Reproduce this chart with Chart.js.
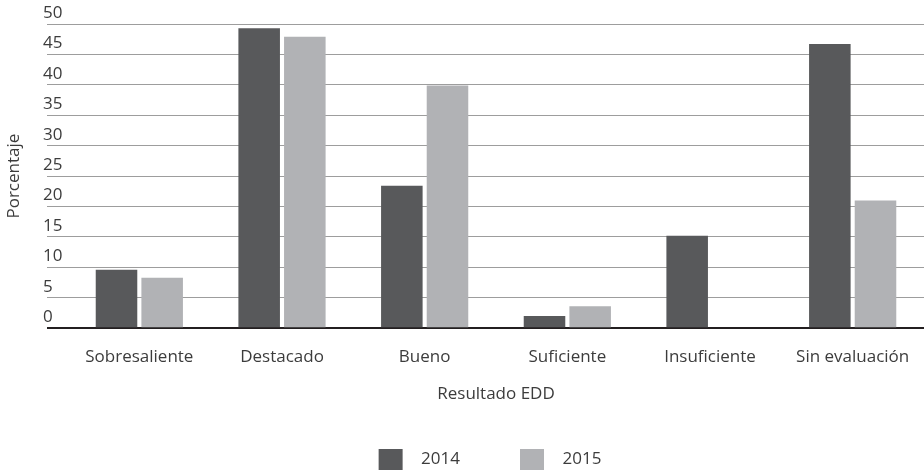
<!DOCTYPE html>
<html>
<head>
<meta charset="utf-8">
<script src="https://cdn.jsdelivr.net/npm/chart.js@4/dist/chart.umd.min.js"></script>
<style>
  html, body { margin: 0; padding: 0; background: #fff; }
  #wrap { width: 924px; height: 470px; }
</style>
</head>
<body>
<div id="wrap"><canvas id="chart"></canvas></div>
<script>
// data
const categories = ['Sobresaliente', 'Destacado', 'Bueno', 'Suficiente', 'Insuficiente', 'Sin evaluación']
const years = ['2014', '2015']
const values2014 = [9.6, 49.3, 23.4, 2.0, 15.2, 46.7]
const values2015 = [8.3, 47.9, 39.9, 3.6, 0, 21.0]
const colors = ['#58595b', '#b1b2b5']

const textColor = '#3c3c3c'
const font = { family: "'Open Sans', 'Noto Sans', sans-serif", size: 17 }

// legend swatch: square box with some empty room on its left
const makeSwatch = (color) => {
  const c = document.createElement('canvas')
  c.width = 90
  c.height = 21
  const g = c.getContext('2d')
  g.fillStyle = color
  g.fillRect(56, 0, 24, 21)
  return c
}
const swatches = colors.map(makeSwatch)

const data = {
  labels: categories,
  datasets: years.map((year, i) => ({
    label: year,
    data: i === 0 ? values2014 : values2015,
    backgroundColor: colors[i],
    categoryPercentage: 0.64,
    barPercentage: 0.91
  }))
}

const config = {
  type: 'bar',
  data: data,
  options: {
    responsive: true,
    maintainAspectRatio: false,
    animation: false,
    layout: { padding: { top: 24, left: 0, right: 0, bottom: -8 } },
    plugins: {
      tooltip: { enabled: false },
      legend: {
        position: 'bottom',
        labels: {
          usePointStyle: true,
          pointStyleWidth: 90,
          padding: 4,
          color: textColor,
          font: font,
          generateLabels: (chart) =>
            Chart.defaults.plugins.legend.labels.generateLabels(chart)
              .map((item, i) => ({ ...item, pointStyle: swatches[i] }))
        }
      }
    },
    scales: {
      x: {
        grid: { display: false, drawTicks: false },
        border: { display: false },
        ticks: { color: textColor, font: font, padding: 19, maxRotation: 0 },
        title: {
          display: true,
          text: 'Resultado EDD',
          color: textColor,
          font: font,
          padding: { top: -3, bottom: 43 }
        },
        // let the plot run to the right edge
        afterFit: (scale) => { scale.paddingRight = 0 }
      },
      y: {
        min: 0,
        max: 50,
        border: { display: false },
        grid: {
          color: (c) => c.tick && c.tick.value === 0 ? '#231f20' : '#9d9d9d',
          lineWidth: (c) => c.tick && c.tick.value === 0 ? 2 : 1,
          drawTicks: true,
          tickLength: 21
        },
        ticks: {
          stepSize: 5,
          mirror: true,
          padding: -25,
          labelOffset: -11,
          color: textColor,
          font: font
        },
        title: {
          display: true,
          text: 'Porcentaje',
          color: textColor,
          font: font,
          padding: { top: 4, bottom: 0 }
        },
        afterFit: (scale) => { scale.width = 68 }
      }
    }
  }
}

const myChart = new Chart(document.getElementById('chart'), config)
</script>
</body>
</html>
